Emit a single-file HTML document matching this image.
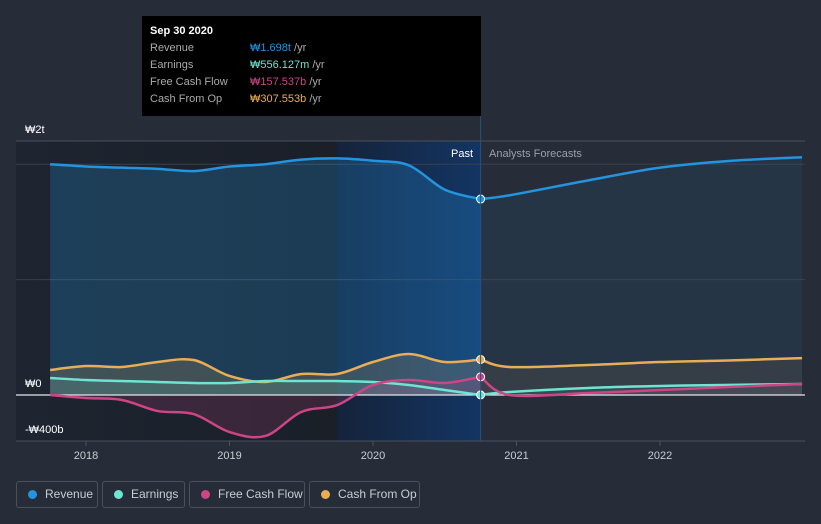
<!DOCTYPE html>
<html><head><meta charset="utf-8"><style>
body{margin:0;background:#262d39;font-family:"Liberation Sans",sans-serif;}
#wrap{position:relative;width:821px;height:524px;overflow:hidden;background:#262d39}
.leg{position:absolute;top:481px;height:25px;border:1px solid #4a515c;border-radius:3px;color:#c9ccd1;font-size:12px;line-height:25px;box-sizing:content-box}
.leg i{position:absolute;left:11px;top:8px;width:9px;height:9px;border-radius:50%}
.leg span{position:absolute;left:28px}
#tip{position:absolute;left:142px;top:16px;width:339px;height:100px;background:#000;color:#fff;font-size:11px}
#tip div{position:absolute;left:8px}
#tip b{position:absolute;left:100px;font-weight:normal}
</style></head><body>
<div id="wrap">
<svg id="svg" width="821" height="524" style="position:absolute;left:0;top:0"></svg>
<div id="tip">
<div style="top:9px;font-weight:bold">Sep 30 2020</div>
<div style="top:26px;color:#aaa;width:330px">Revenue<b style="color:#2394df">₩1.698t <span style="color:#aaa">/yr</span></b></div>
<div style="top:43px;color:#aaa;width:330px">Earnings<b style="color:#6ee4d2">₩556.127m <span style="color:#aaa">/yr</span></b></div>
<div style="top:60px;color:#aaa;width:330px">Free Cash Flow<b style="color:#cc4586">₩157.537b <span style="color:#aaa">/yr</span></b></div>
<div style="top:77px;color:#aaa;width:330px">Cash From Op<b style="color:#e9ad56">₩307.553b <span style="color:#aaa">/yr</span></b></div>
</div>
<div class="leg" style="left:16px;width:80px"><i style="background:#2394df"></i><span>Revenue</span></div>
<div class="leg" style="left:102px;width:81px"><i style="background:#6ee4d2"></i><span>Earnings</span></div>
<div class="leg" style="left:189px;width:114px"><i style="background:#cc4586"></i><span>Free Cash Flow</span></div>
<div class="leg" style="left:309px;width:109px"><i style="background:#e9ad56"></i><span>Cash From Op</span></div>
</div>
<script>
const pastTimes=[2017.75,2018,2018.25,2018.5,2018.75,2019,2019.25,2019.5,2019.75,2020,2020.25,2020.5,2020.75];
const foreTimes=[2020.75,2020.95,2021.5,2022,2022.5,2022.99];
const revenuePast=[2.00,1.98,1.97,1.96,1.94,1.98,2.00,2.04,2.05,2.03,1.99,1.78,1.698];
const revenueFore=[1.698,1.73,1.86,1.97,2.03,2.06];
const earningsPast=[0.147,0.130,0.121,0.113,0.104,0.104,0.121,0.121,0.121,0.113,0.087,0.043,0.0006];
const earningsFore=[0.0006,0.026,0.061,0.078,0.088,0.095];
const fcfPast=[0,-0.026,-0.043,-0.139,-0.165,-0.321,-0.355,-0.147,-0.087,0.087,0.130,0.104,0.1575];
const fcfFore=[0.1575,0,0.017,0.043,0.07,0.095];
const cfoPast=[0.217,0.251,0.243,0.286,0.303,0.165,0.113,0.182,0.182,0.286,0.355,0.286,0.3076];
const cfoFore=[0.3076,0.243,0.260,0.286,0.300,0.320];
const yTicks=[2,0,-0.4];
const yTickLabels=["₩2t","₩0","-₩400b"];
const xTicks=[2018,2019,2020,2021,2022];
const X=t=>86+(t-2018)*143.5;
const Y=v=>395-v*115.4;
const svg=document.getElementById('svg');const NS='http://www.w3.org/2000/svg';
function mk(tag,attrs,name){const e=document.createElementNS(NS,tag);for(const k in attrs)e.setAttribute(k,attrs[k]);


svg.appendChild(e);return e;}
function path(ts,vs){const p=ts.map((t,i)=>[X(t),Y(vs[i])]);let d='M'+p[0][0]+','+p[0][1];
for(let i=0;i<p.length-1;i++){const p0=p[i-1]||p[i],p1=p[i],p2=p[i+1],p3=p[i+2]||p2;
d+=` C${p1[0]+(p2[0]-p0[0])/6},${p1[1]+(p2[1]-p0[1])/6} ${p2[0]-(p3[0]-p1[0])/6},${p2[1]-(p3[1]-p1[1])/6} ${p2[0]},${p2[1]}`;}return d;}
const defs=mk('defs',{},'defs');
defs.innerHTML='<linearGradient id="gp" x1="0" x2="1"><stop offset="0" stop-color="#1e2530"/><stop offset="1" stop-color="#1a1f28"/></linearGradient><linearGradient id="gh" x1="0" x2="1"><stop offset="0" stop-color="#15233a"/><stop offset="1" stop-color="#133563"/></linearGradient>';
mk('rect',{x:16,y:141,width:321,height:300,fill:'url(#gp)'},'past-background');
mk('rect',{x:337,y:141,width:X(2020.75)-337,height:300,fill:'url(#gh)'},'last-year-highlight');
[2,1].forEach(v=>mk('line',{x1:16,x2:805,y1:Y(v),y2:Y(v),stroke:'#39404c'},'gridline'));
mk('line',{x1:16,x2:805,y1:141,y2:141,stroke:'#4a515c'},'top-gridline');
mk('line',{x1:16,x2:805,y1:441,y2:441,stroke:'#4a515c'},'x-axis');
const series=[[revenuePast,revenueFore,'#2394df','revenue',0.35],[cfoPast,cfoFore,'#e9ad56','cash-from-op',0.25],[earningsPast,earningsFore,'#6ee4d2','earnings',0.2],[fcfPast,fcfFore,'#cc4586','free-cash-flow',0.25]];
series.forEach(([p,f,c,n,o])=>{
 const z=Y(0);
 mk('path',{d:path(pastTimes,p)+` L${X(2020.75)},${z} L${X(2017.75)},${z} Z`,fill:c,'fill-opacity':o*0.7},n+'-area');
 mk('path',{d:path(foreTimes,f)+` L${X(2022.99)},${z} L${X(2020.75)},${z} Z`,fill:c,'fill-opacity':0.08},n+'-forecast-area');
});
mk('line',{x1:16,x2:805,y1:Y(0),y2:Y(0),stroke:'#e6e6e6','stroke-width':1.2},'zero-line');
series.forEach(([p,f,c,n])=>{
 mk('path',{d:path(pastTimes,p),fill:'none',stroke:c,'stroke-width':2.5},n+'-line');
 mk('path',{d:path(foreTimes,f),fill:'none',stroke:c,'stroke-width':2.5},n+'-forecast-line');
 mk('circle',{cx:X(2020.75),cy:Y(p[p.length-1]),r:4,fill:c,stroke:'#fff','stroke-width':1},n+'-marker');
});
mk('line',{x1:X(2020.75),x2:X(2020.75),y1:116,y2:441,stroke:'#2a4f80'},'cursor-line');
const tp=mk('text',{x:473,y:157,fill:'#fff','font-size':11,'text-anchor':'end'},'past-label');tp.textContent='Past';
const tf=mk('text',{x:489,y:157,fill:'#9aa0a8','font-size':11},'forecast-label');tf.textContent='Analysts Forecasts';
yTicks.forEach((v,i)=>{const t=mk('text',{x:25,y:[133,387,433][i],fill:'#fff','font-size':11},'y-tick-label');t.textContent=yTickLabels[i];});
xTicks.forEach(v=>{mk('line',{x1:X(v),x2:X(v),y1:441,y2:446,stroke:'#4a515c'},'x-tick');
 const t=mk('text',{x:X(v),y:459,fill:'#c9ccd1','font-size':11,'text-anchor':'middle'},'x-tick-label');t.textContent=v;});
</script>
</body></html>
